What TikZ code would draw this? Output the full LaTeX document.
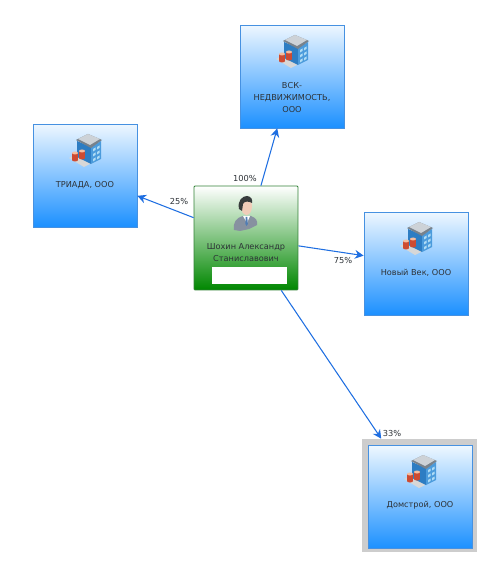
\documentclass[tikz,border=0pt]{standalone}
\usepackage{fontspec}
\setmainfont{DejaVu Sans}
\usetikzlibrary{arrows.meta, positioning}
\definecolor{boxblue}{RGB}{28,144,255}
\definecolor{boxtop}{RGB}{238,247,255}
\definecolor{boxframe}{RGB}{70,145,225}
\definecolor{boxgreen}{RGB}{0,135,0}
\definecolor{greenframe}{RGB}{50,130,55}
\definecolor{linkblue}{RGB}{30,110,225}
\definecolor{txtdark}{RGB}{45,50,55}
\definecolor{selgray}{RGB}{205,205,205}
\definecolor{roofgray}{RGB}{205,210,215}
\definecolor{roofdark}{RGB}{120,130,140}
\definecolor{wallleft}{RGB}{45,125,195}
\definecolor{wallright}{RGB}{75,155,220}
\definecolor{windowblue}{RGB}{175,220,245}
\definecolor{basegray}{RGB}{215,215,215}
\definecolor{tankred}{RGB}{205,75,50}
\definecolor{tanktop}{RGB}{245,190,160}
\definecolor{suitgray}{RGB}{135,145,160}
\definecolor{skintone}{RGB}{240,205,185}
\definecolor{hairdark}{RGB}{55,60,60}
\definecolor{tieblue}{RGB}{80,125,180}
\tikzset{
  firmbox/.style={rectangle, draw=boxframe, top color=boxtop, bottom color=boxblue,
    minimum width=2.08cm, minimum height=2.06cm, line width=0.4pt},
  personbox/.style={rectangle, draw=greenframe, top color=white, bottom color=boxgreen,
    minimum width=2.08cm, minimum height=2.08cm, line width=0.5pt, rounded corners=0.5pt},
  selframe/.style={rectangle, fill=selgray, minimum width=2.3cm, minimum height=2.26cm},
  boxtext/.style={font=\fontsize{4.65}{6.6}\selectfont, color=txtdark, align=center},
  pctlabel/.style={font=\fontsize{4.7}{6}\selectfont, color=txtdark, inner sep=0pt},
  link/.style={-{Stealth[length=5pt,width=5pt]}, color=linkblue, line width=0.6pt},
  pics/buildingicon/.style={code={
    % base, walls, roof, windows, little tanks in front
    \fill[basegray] (-17,7) -- (-6,1) -- (10,10) -- (-2,16) -- cycle;
    \fill[wallleft] (-9,-10) -- (5,-4) -- (5,13) -- (-9,6) -- cycle;
    \fill[wallright] (5,-4) -- (15,-10) -- (15,8) -- (5,13) -- cycle;
    \fill[roofdark] (-10,-11) -- (2,-17) -- (16,-11) -- (5,-3) -- cycle;
    \fill[roofgray] (-8,-12) -- (2,-17) -- (14,-12) -- (4,-6) -- cycle;
    \foreach \wy in {0,5,10} {
      \fill[windowblue] (7,\wy-2) -- (9.5,\wy-3.5) -- (9.5,\wy-1) -- (7,\wy+0.5) -- cycle;
      \fill[windowblue] (11,\wy-4) -- (13.5,\wy-5.5) -- (13.5,\wy-3) -- (11,\wy-1.5) -- cycle;
    }
    \foreach \tx/\ty in {-11/2,-4/0} {
      \fill[tankred] (\tx-3,\ty) rectangle (\tx+3,\ty+7);
      \fill[tankred] (\tx,\ty+7) ellipse (3 and 1.5);
      \fill[tanktop] (\tx,\ty) ellipse (3 and 1.5);
    }
  }},
  pics/personicon/.style={code={
    % suit, shirt, tie, face, hair
    \fill[suitgray] (-12,16) .. controls (-13,8) and (-10,4) .. (-3,2) -- (5,2)
      .. controls (10,4) and (12,7) .. (11,11) -- (3,15) -- (-6,17) -- cycle;
    \fill[white] (-3,2) -- (4,2) -- (1,9) -- cycle;
    \fill[tieblue] (-0.3,3) -- (1.3,3) -- (1.8,10) -- (0.6,12) -- (-0.6,10) -- cycle;
    \fill[skintone] (0.5,-8) ellipse (5.5 and 9);
    \fill[hairdark] (-7,-5) .. controls (-9,-14) and (-3,-18) .. (1,-18)
      .. controls (5,-18) and (7,-14) .. (6,-11) .. controls (3,-13) and (-2,-13) .. (-3,-10)
      -- (-4,-3) -- cycle;
  }}
}
\begin{document}
\begin{tikzpicture}[x=0.02cm, y=-0.02cm]
  \useasboundingbox (0,0) rectangle (500,563);

  % Selected box sits on a gray frame
  \node[selframe] (domframe) at (419.5,495.5) {};

  % Boxes
  \node[personbox] (shokhin) at (246,238) {};
  \node[firmbox] (vsk) at (292,76.5) {};
  \node[firmbox] (triada) at (85,175.5) {};
  \node[firmbox] (novyi) at (416,263.5) {};
  \node[firmbox] (domstroy) at (420,497) {};

  % Icons
  \pic at (293,52) {buildingicon};
  \pic at (86,151) {buildingicon};
  \pic at (417,239) {buildingicon};
  \pic at (421,472) {buildingicon};
  \pic at (246,214) {personicon};

  % Box texts
  \node[boxtext] (vsktext) at (292,97.5) {ВСК-\\НЕДВИЖИМОСТЬ,\\ООО};
  \node[boxtext] (triadatext) at (85,185) {ТРИАДА, ООО};
  \node[boxtext] (novyitext) at (416,273) {Новый Век, ООО};
  \node[boxtext] (domtext) at (420,505.5) {Домстрой, ООО};
  \node[boxtext] (shokhintext) at (246,252.5) {Шохин Александр\\Станиславович};
  \node[rectangle, fill=white, minimum width=1.5cm, minimum height=0.34cm, inner sep=0pt] (blank) at (249.5,275.5) {};

  % Ownership links
  \draw[link] (shokhin) -- (vsk);
  \draw[link] (shokhin) -- (triada);
  \draw[link] (shokhin) -- (novyi);
  \draw[link] (shokhin) -- (domframe);

  % Percent labels
  \node[pctlabel] (pvsk) at (245,178) {100\%};
  \node[pctlabel] (ptriada) at (179,201) {25\%};
  \node[pctlabel] (pnovyi) at (343,260) {75\%};
  \node[pctlabel] (pdom) at (392,433) {33\%};
\end{tikzpicture}
\end{document}
